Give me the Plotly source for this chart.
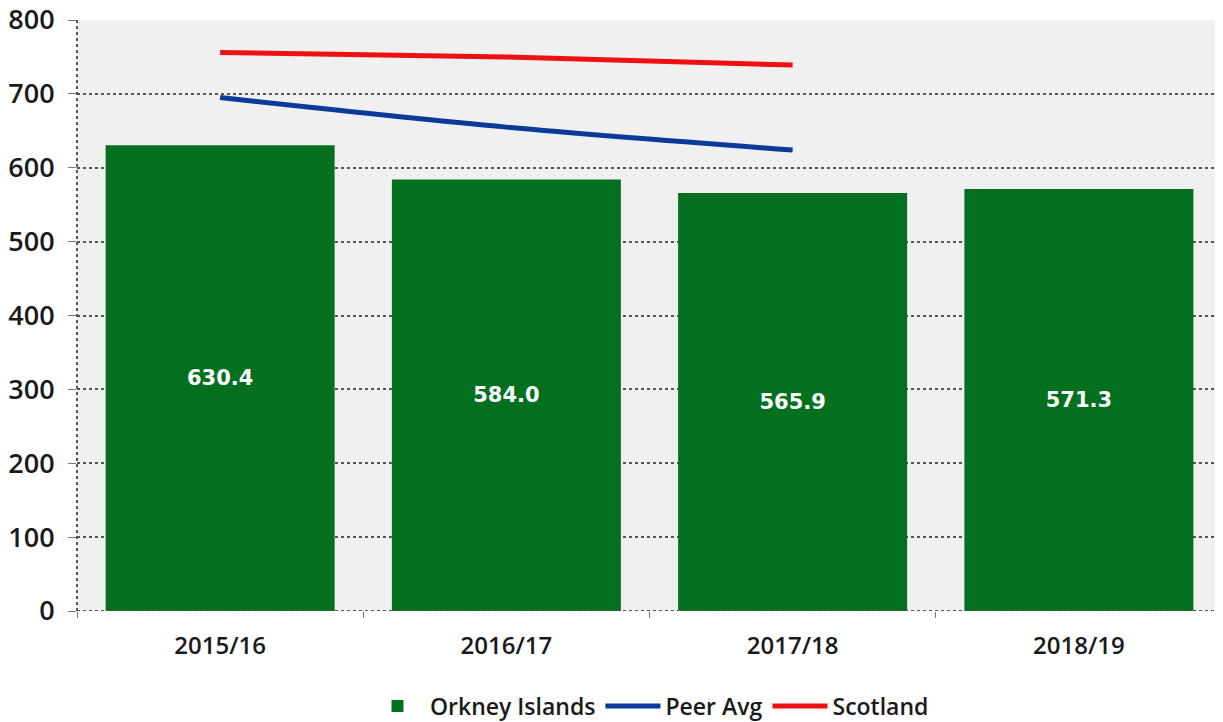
import plotly.graph_objects as go

# Values
years = ["2015/16", "2016/17", "2017/18", "2018/19"]
orkney = [630.4, 584.0, 565.9, 571.3]
peer_avg = [695, 655, 624, None]
scotland = [756, 750, 739, None]

fig = go.Figure()

fig.add_trace(go.Bar(
    x=years, y=orkney, name="Orkney Islands",
    marker=dict(color="#037020", line=dict(width=0)),
    text=[f"{v:.1f}" for v in orkney],
    textposition="inside", insidetextanchor="middle",
    textfont=dict(color="white", size=21, family="DejaVu Sans"),
    texttemplate="<b>%{text}</b>",
))
fig.add_trace(go.Scatter(
    x=years, y=peer_avg, name="Peer Avg", mode="lines",
    line=dict(color="#0a3a9a", width=5, shape="spline"),
))
fig.add_trace(go.Scatter(
    x=years, y=scotland, name="Scotland", mode="lines",
    line=dict(color="#ee1111", width=5, shape="spline"),
))

# dotted axis lines
fig.add_shape(type="line", xref="paper", yref="y", x0=0, x1=1, y0=0, y1=0,
              line=dict(color="#555555", width=2, dash="dot"))
fig.add_shape(type="line", xref="paper", yref="paper", x0=0, x1=0, y0=0, y1=1,
              line=dict(color="#555555", width=2, dash="dot"))

# page body keeps an 8px margin, so the figure is sized to fit the window
fig.update_layout(
    width=1215, height=714,
    margin=dict(l=69, r=1, t=12, b=111, autoexpand=False),
    paper_bgcolor="white", plot_bgcolor="#f0f0f0",
    bargap=0.2,
    font=dict(family="Open Sans", color="#1a1a1a"),
    showlegend=True,
    legend=dict(orientation="h", x=0.5, xanchor="center", y=-0.161, yanchor="middle",
                itemwidth=55,
                font=dict(size=23, family="Open Sans", weight=600), traceorder="normal"),
    xaxis=dict(
        tickfont=dict(size=24, family="Open Sans", weight=600),
        tickson="boundaries", ticks="outside", ticklen=6, tickcolor="#777777",
        ticklabelstandoff=18,
        showgrid=False, showline=False, zeroline=False, automargin=False,
    ),
    yaxis=dict(
        range=[0, 800], dtick=100,
        tickfont=dict(size=27, family="Open Sans", weight=600),
        showgrid=True, gridcolor="#555555", griddash="dot", gridwidth=1.5,
        ticks="outside", ticklen=8, tickcolor="#777777",
        ticklabelstandoff=8, ticklabeloverflow="allow",
        zeroline=False, showline=False, automargin=False,
    ),
)

fig.write_html("out.html")
